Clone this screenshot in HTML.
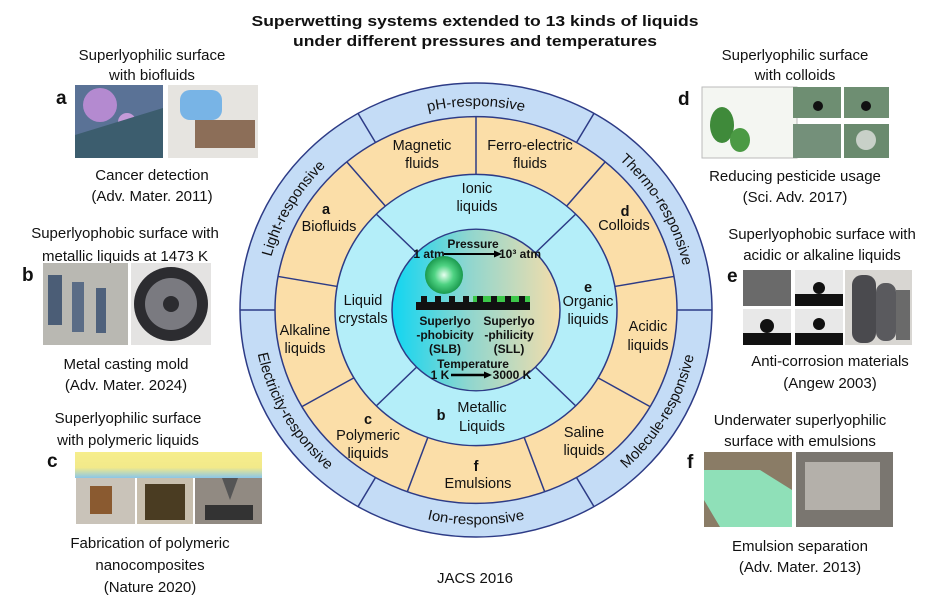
<!DOCTYPE html>
<html><head><meta charset="utf-8"><style>
html,body{margin:0;padding:0;background:#fff}
svg{display:block}
text{font-family:"Liberation Sans",sans-serif;fill:#111}
.s{font-size:15px;text-anchor:middle}
.r{font-size:14.5px;text-anchor:middle}
.b{font-weight:bold}
.c{font-size:12px;font-weight:bold;text-anchor:middle}
</style></head><body>
<svg width="950" height="604" viewBox="0 0 950 604" xmlns="http://www.w3.org/2000/svg">
<defs>
<linearGradient id="cg" x1="0" x2="1" y1="0" y2="0">
<stop offset="0" stop-color="#0fd6f2"/><stop offset="0.45" stop-color="#8ed6cf"/><stop offset="1" stop-color="#f5ddaa"/>
</linearGradient>
<radialGradient id="sp" cx="0.5" cy="0.5" r="0.5">
<stop offset="0" stop-color="#e8fff0"/><stop offset="0.5" stop-color="#4fd383"/><stop offset="1" stop-color="#1a9a4e"/>
</radialGradient>
<linearGradient id="band" x1="0" x2="0" y1="0" y2="1"><stop offset="0" stop-color="#f6ee8c"/><stop offset="0.6" stop-color="#f2e98a"/><stop offset="1" stop-color="#8ac6e8"/></linearGradient>
</defs>

<text x="475" y="26" text-anchor="middle" font-size="15" font-weight="bold" textLength="447" lengthAdjust="spacingAndGlyphs">Superwetting systems extended to 13 kinds of liquids</text>
<text x="475" y="46" text-anchor="middle" font-size="15" font-weight="bold" textLength="364" lengthAdjust="spacingAndGlyphs">under different pressures and temperatures</text>

<g transform="translate(476,310) scale(1,0.962)" stroke="#2d3b86" stroke-width="1.5">
<circle r="236" fill="#c4dcf6"/>
<circle r="201" fill="#fbdea8"/>
<circle r="141" fill="#b4eef9"/>
<circle r="84" fill="url(#cg)" stroke="#2d3b86"/>
<!-- outer dividers 6 -->
<g>
<line x1="201" y1="0" x2="236" y2="0"/><line x1="-201" y1="0" x2="-236" y2="0"/>
<line x1="100.5" y1="-174.1" x2="118" y2="-204.4"/><line x1="-100.5" y1="-174.1" x2="-118" y2="-204.4"/>
<line x1="100.5" y1="174.1" x2="118" y2="204.4"/><line x1="-100.5" y1="174.1" x2="-118" y2="204.4"/>
</g>
<!-- orange dividers at -90 + k*40 -->
<line x1="0" y1="-141" x2="0" y2="-201"/>
<line x1="90.6" y1="-108" x2="129.2" y2="-154"/>
<line x1="138.9" y1="-24.5" x2="197.9" y2="-34.9"/>
<line x1="122.1" y1="70.5" x2="174.1" y2="100.5"/>
<line x1="48.2" y1="132.5" x2="68.7" y2="188.9"/>
<line x1="-48.2" y1="132.5" x2="-68.7" y2="188.9"/>
<line x1="-122.1" y1="70.5" x2="-174.1" y2="100.5"/>
<line x1="-138.9" y1="-24.5" x2="-197.9" y2="-34.9"/>
<line x1="-90.6" y1="-108" x2="-129.2" y2="-154"/>
<!-- blue dividers ±45 ±135 -->
<line x1="59.4" y1="-59.4" x2="99.7" y2="-99.7"/>
<line x1="-59.4" y1="-59.4" x2="-99.7" y2="-99.7"/>
<line x1="59.4" y1="59.4" x2="99.7" y2="99.7"/>
<line x1="-59.4" y1="59.4" x2="-99.7" y2="99.7"/>
<path id="pT" d="M -106 -183.6 A 212 212 0 0 1 106 -183.6" fill="none" stroke="none"/>
<path id="pTh" d="M 106 -183.6 A 212 212 0 0 1 212 0" fill="none" stroke="none"/>
<path id="pL" d="M -212 0 A 212 212 0 0 1 -106 -183.6" fill="none" stroke="none"/>
<path id="pI" d="M -111.5 193.1 A 223 223 0 0 0 111.5 193.1" fill="none" stroke="none"/>
<path id="pM" d="M 111.5 193.1 A 223 223 0 0 0 223 0" fill="none" stroke="none"/>
<path id="pE" d="M -223 0 A 223 223 0 0 0 -111.5 193.1" fill="none" stroke="none"/>
</g>
<g transform="translate(476,310) scale(1,0.962)" font-size="15">
<text><textPath href="#pT" startOffset="50%" text-anchor="middle">pH-responsive</textPath></text>
<text><textPath href="#pTh" startOffset="50%" text-anchor="middle">Thermo-responsive</textPath></text>
<text><textPath href="#pL" startOffset="50%" text-anchor="middle">Light-responsive</textPath></text>
<text><textPath href="#pI" startOffset="50%" text-anchor="middle">Ion-responsive</textPath></text>
<text><textPath href="#pM" startOffset="50%" text-anchor="middle">Molecule-responsive</textPath></text>
<text><textPath href="#pE" startOffset="50%" text-anchor="middle">Electricity-responsive</textPath></text>
</g>

<!-- orange ring labels -->
<text class="r" x="422" y="150">Magnetic</text><text class="r" x="422" y="168">fluids</text>
<text class="r" x="530" y="150">Ferro-electric</text><text class="r" x="530" y="168">fluids</text>
<text class="r b" x="326" y="214" font-size="17">a</text><text class="r" x="329" y="231">Biofluids</text>
<text class="r b" x="625" y="216" font-size="17">d</text><text class="r" x="624" y="230">Colloids</text>
<text class="r" x="305" y="335">Alkaline</text><text class="r" x="305" y="353">liquids</text>
<text class="r" x="648" y="331">Acidic</text><text class="r" x="648" y="350">liquids</text>
<text class="r b" x="368" y="424" font-size="17">c</text><text class="r" x="368" y="440">Polymeric</text><text class="r" x="368" y="458">liquids</text>
<text class="r b" x="476" y="471" font-size="17">f</text><text class="r" x="478" y="488">Emulsions</text>
<text class="r" x="584" y="437">Saline</text><text class="r" x="584" y="455">liquids</text>
<!-- light blue ring -->
<text class="r" x="477" y="193">Ionic</text><text class="r" x="477" y="211">liquids</text>
<text class="r" x="363" y="305">Liquid</text><text class="r" x="363" y="323">crystals</text>
<text class="r b" x="588" y="292" font-size="17">e</text><text class="r" x="588" y="306">Organic</text><text class="r" x="588" y="324">liquids</text>
<text class="r b" x="441" y="420" font-size="17">b</text><text class="r" x="482" y="412">Metallic</text><text class="r" x="482" y="431">Liquids</text>

<!-- center -->
<text class="c" x="473" y="248">Pressure</text>
<text class="c" x="429" y="258" font-size="11">1 atm</text>
<line x1="444" y1="254" x2="494" y2="254" stroke="#000" stroke-width="2"/><polygon points="494,250.5 502,254 494,257.5" fill="#000"/>
<text class="c" x="520" y="258" font-size="11">10³ atm</text>
<circle cx="444" cy="275" r="19" fill="url(#sp)"/>
<rect x="416" y="302" width="114" height="8" fill="#111"/>
<g fill="#111">
<rect x="421" y="296" width="6" height="6"/><rect x="435" y="296" width="6" height="6"/><rect x="449" y="296" width="6" height="6"/><rect x="463" y="296" width="6" height="6"/>
</g>
<rect x="473" y="296" width="57" height="6" fill="#3cc84a"/>
<g fill="#111">
<rect x="477" y="296" width="6" height="6"/><rect x="491" y="296" width="6" height="6"/><rect x="505" y="296" width="6" height="6"/><rect x="519" y="296" width="6" height="6"/>
</g>
<text class="c" x="445" y="325">Superlyo</text><text class="c" x="445" y="339">-phobicity</text><text class="c" x="445" y="353">(SLB)</text>
<text class="c" x="509" y="325">Superlyo</text><text class="c" x="509" y="339">-philicity</text><text class="c" x="509" y="353">(SLL)</text>
<text class="c" x="473" y="368">Temperature</text>
<text class="c" x="440" y="379" font-size="11">1 K</text>
<line x1="451" y1="375" x2="484" y2="375" stroke="#000" stroke-width="2.5"/><polygon points="484,371.5 492,375 484,378.5" fill="#000"/>
<text class="c" x="512" y="379" font-size="11">3000 K</text>

<text class="s" x="475" y="583">JACS 2016</text>

<!-- LEFT a -->
<text class="s" x="152" y="60">Superlyophilic surface</text>
<text class="s" x="152" y="80">with biofluids</text>
<text x="56" y="104" font-size="19" font-weight="bold">a</text>
<rect x="75" y="85" width="88" height="73" fill="#5a7296"/>
<circle cx="100" cy="105" r="17" fill="#b48ad0"/><circle cx="127" cy="122" r="9" fill="#c49ad8"/>
<polygon points="75,158 75,135 163,108 163,158" fill="#3c5d6e"/>
<rect x="168" y="85" width="90" height="73" fill="#e6e4e0"/>
<rect x="180" y="90" width="42" height="30" rx="10" fill="#78b4e6"/>
<rect x="195" y="120" width="60" height="28" fill="#8c6e58"/>
<text class="s" x="152" y="180">Cancer detection</text>
<text class="s" x="152" y="201">(Adv. Mater. 2011)</text>
<!-- b -->
<text class="s" x="125" y="238">Superlyophobic surface with</text>
<text class="s" x="125" y="261">metallic liquids at 1473 K</text>
<text x="22" y="281" font-size="19" font-weight="bold">b</text>
<rect x="43" y="263" width="85" height="82" fill="#b9b8b2"/>
<rect x="48" y="275" width="14" height="50" fill="#4b5d76"/><rect x="72" y="282" width="12" height="50" fill="#5a6c86"/><rect x="96" y="288" width="10" height="45" fill="#4f617c"/>
<rect x="131" y="263" width="80" height="82" fill="#e4e3e2"/>
<circle cx="171" cy="304" r="37" fill="#2c2c30"/><circle cx="171" cy="304" r="26" fill="#7a7a80"/><circle cx="171" cy="304" r="8" fill="#2c2c30"/>
<text class="s" x="126" y="369">Metal casting mold</text>
<text class="s" x="126" y="390">(Adv. Mater. 2024)</text>
<!-- c -->
<text class="s" x="128" y="423">Superlyophilic surface</text>
<text class="s" x="128" y="445">with polymeric liquids</text>
<text x="47" y="467" font-size="19" font-weight="bold">c</text>
<rect x="75" y="452" width="187" height="26" fill="url(#band)"/>
<rect x="76" y="478" width="59" height="46" fill="#c9c3b9"/><rect x="90" y="486" width="22" height="28" fill="#8a5a30"/>
<rect x="137" y="478" width="56" height="46" fill="#c8bfae"/><rect x="145" y="484" width="40" height="36" fill="#4a3c22"/>
<rect x="195" y="478" width="67" height="46" fill="#918a82"/><rect x="205" y="505" width="48" height="15" fill="#333"/><polygon points="222,478 238,478 230,500" fill="#555"/>
<text class="s" x="150" y="548">Fabrication of polymeric</text>
<text class="s" x="150" y="570">nanocomposites</text>
<text class="s" x="150" y="592">(Nature 2020)</text>

<!-- RIGHT d -->
<text class="s" x="795" y="60">Superlyophilic surface</text>
<text class="s" x="795" y="80">with colloids</text>
<text x="678" y="105" font-size="19" font-weight="bold">d</text>
<rect x="702" y="87" width="95" height="71" fill="#f4f6f2" stroke="#bbb"/>
<ellipse cx="722" cy="125" rx="12" ry="18" fill="#3f8a3a"/><ellipse cx="740" cy="140" rx="10" ry="12" fill="#4b9a44"/>
<rect x="793" y="87" width="48" height="31" fill="#6e8e72"/><rect x="844" y="87" width="45" height="31" fill="#6e8e72"/>
<rect x="793" y="124" width="48" height="34" fill="#74907a"/><rect x="844" y="124" width="45" height="34" fill="#6a8a6e"/>
<circle cx="818" cy="106" r="5" fill="#111"/><circle cx="866" cy="106" r="5" fill="#111"/><circle cx="866" cy="140" r="10" fill="#c8d0c8"/>
<text class="s" x="795" y="181">Reducing pesticide usage</text>
<text class="s" x="795" y="202">(Sci. Adv. 2017)</text>
<!-- e -->
<text class="s" x="822" y="239">Superlyophobic surface with</text>
<text class="s" x="822" y="260">acidic or alkaline liquids</text>
<text x="727" y="282" font-size="19" font-weight="bold">e</text>
<rect x="743" y="270" width="48" height="36" fill="#6a6a6a"/>
<rect x="795" y="270" width="48" height="36" fill="#e8e8e8"/><rect x="795" y="294" width="48" height="12" fill="#111"/><circle cx="819" cy="288" r="6" fill="#111"/>
<rect x="743" y="309" width="48" height="36" fill="#e8e8e8"/><rect x="743" y="333" width="48" height="12" fill="#111"/><circle cx="767" cy="326" r="7" fill="#111"/>
<rect x="795" y="309" width="48" height="36" fill="#e8e8e8"/><rect x="795" y="333" width="48" height="12" fill="#111"/><circle cx="819" cy="324" r="6" fill="#111"/>
<rect x="845" y="270" width="67" height="75" fill="#d8d6d2"/>
<rect x="852" y="275" width="24" height="68" rx="10" fill="#4a4a4e"/><rect x="876" y="283" width="20" height="58" rx="9" fill="#5a5a5e"/><rect x="896" y="290" width="14" height="50" fill="#6a6a6a"/>
<text class="s" x="830" y="366">Anti-corrosion materials</text>
<text class="s" x="830" y="388">(Angew 2003)</text>
<!-- f -->
<text class="s" x="800" y="425">Underwater superlyophilic</text>
<text class="s" x="800" y="446">surface with emulsions</text>
<text x="687" y="468" font-size="19" font-weight="bold">f</text>
<rect x="704" y="452" width="88" height="75" fill="#8a7c66"/>
<polygon points="704,470 760,470 792,490 792,527 720,527 704,500" fill="#8fe0b8"/>
<rect x="796" y="452" width="97" height="75" fill="#7a7670"/>
<rect x="805" y="462" width="75" height="48" fill="#b4b0aa"/>
<text class="s" x="800" y="551">Emulsion separation</text>
<text class="s" x="800" y="572">(Adv. Mater. 2013)</text>
</svg>
</body></html>
